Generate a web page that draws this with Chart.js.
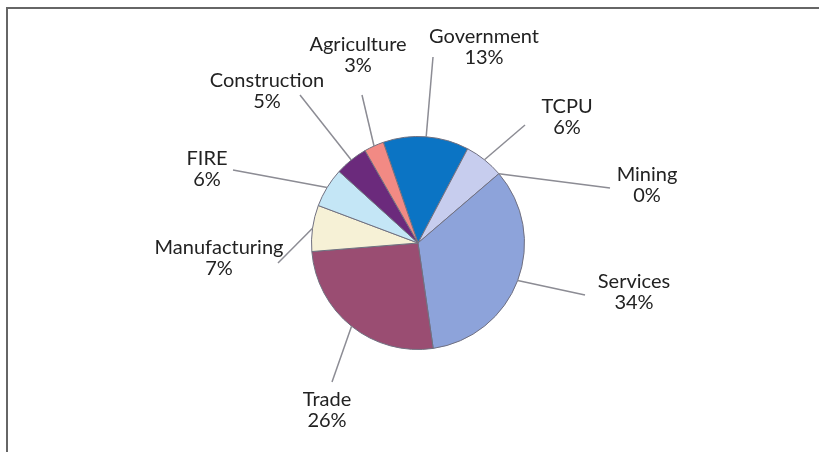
<!DOCTYPE html>
<html>
<head>
<meta charset="utf-8">
<script src="https://cdn.jsdelivr.net/npm/chart.js@4/dist/chart.umd.min.js"></script>
<style>
    html, body { margin: 0; padding: 0; background: #fff; }
    #wrap { position: relative; width: 819px; height: 452px; }
    #frame {
        position: absolute; left: 6px; top: 7px; right: 0; bottom: 0;
        border-top: 2px solid #666; border-left: 2px solid #666;
    }
    #share-chart { position: absolute; left: 0; top: 0; }
</style>
</head>
<body>
<div id="wrap">
    <div id="frame"></div>
    <canvas id="share-chart" width="819" height="452"></canvas>
</div>
<script>
const sectors = ['Government', 'TCPU', 'Mining', 'Services', 'Trade', 'Manufacturing', 'FIRE', 'Construction', 'Agriculture'];
const shares = [13, 6, 0, 34, 26, 7, 6, 5, 3];
const sectorColors = ['#0B74C4', '#C7CDEE', '#D8DCF2', '#8DA3DA', '#9A4D72', '#F6F1D6', '#C4E6F6', '#6B2A7C', '#F28A84'];

// label centre and leader end, as offsets from the pie centre
const calloutLayout = [
    {label: [66, -196], end: [15, -186]},
    {label: [149, -126], end: [107, -118]},
    {label: [229, -58], end: [192, -55]},
    {label: [216, 49], end: [167, 52]},
    {label: [-91, 167], end: [-86, 139]},
    {label: [-199, 15], end: [-140, 20]},
    {label: [-211, -74], end: [-185, -73]},
    {label: [-151, -152], end: [-118, -148]},
    {label: [-60, -188], end: [-56, -148]}
];

const callouts = {
    id: 'callouts',
    afterDatasetsDraw(chart, args, opts) {
        const ctx = chart.ctx;
        const meta = chart.getDatasetMeta(0);
        ctx.save();
        meta.data.forEach((arc, i) => {
            const lay = opts.layout[i];
            const mid = (arc.startAngle + arc.endAngle) / 2;
            const sx = arc.x + Math.cos(mid) * arc.outerRadius;
            const sy = arc.y + Math.sin(mid) * arc.outerRadius;
            ctx.strokeStyle = '#8c8c94';
            ctx.lineWidth = 1.5;
            ctx.beginPath();
            ctx.moveTo(sx, sy);
            ctx.lineTo(arc.x + lay.end[0], arc.y + lay.end[1]);
            ctx.stroke();

            const cx = arc.x + lay.label[0];
            const cy = arc.y + lay.label[1];
            ctx.fillStyle = '#222';
            ctx.font = '20px Lato, sans-serif';
            ctx.textAlign = 'center';
            ctx.textBaseline = 'middle';
            // zero-width non-joiner keeps Lato from joining "ct"
            ctx.fillText(sectors[i].replace('ct', 'c\u200Ct'), cx, cy - 10.5);
            ctx.fillText(shares[i] + '%', cx, cy + 10.5);
        });
        ctx.restore();
    }
};

const ctx = document.getElementById('share-chart').getContext('2d');
const shareChart = new Chart(ctx, {
    type: 'pie',
    data: {
        labels: sectors,
        datasets: [{
            data: shares,
            backgroundColor: sectorColors,
            borderColor: '#707080',
            borderWidth: 1
        }]
    },
    options: {
        responsive: false,
        animation: false,
        rotation: -19,
        layout: {
            padding: {left: 311, right: 294, top: 136, bottom: 102}
        },
        plugins: {
            legend: {display: false},
            tooltip: {enabled: false},
            callouts: {layout: calloutLayout}
        }
    },
    plugins: [callouts]
});
</script>
</body>
</html>
